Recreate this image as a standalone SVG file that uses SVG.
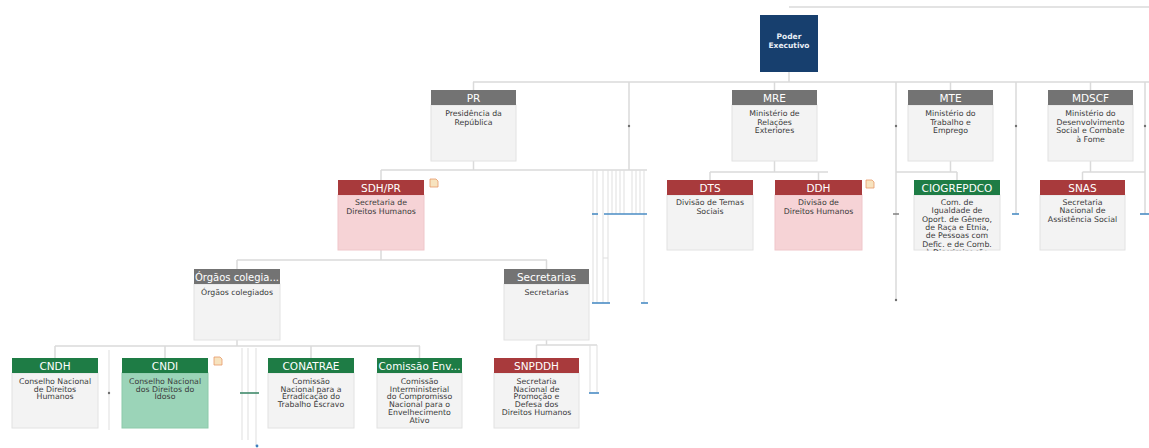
<svg xmlns="http://www.w3.org/2000/svg" width="1149" height="448" viewBox="0 0 1149 448">
  <style>
    .ln { stroke: #dadada; stroke-width: 1.5; fill: none; }
    .thin { stroke: #dfdfdf; stroke-width: 1; fill: none; }
    .blue { stroke: #4a8cc4; stroke-width: 1.6; fill: none; }
    .dot { fill: #6f6f6f; }
    .hd-gray { fill: #737373; }
    .hd-red { fill: #a83a3c; }
    .hd-green { fill: #1e7c45; }
    .bd { fill: #f3f3f3; stroke: #e2e2e2; stroke-width: 1; }
    .bd-pink { fill: #f6d3d6; stroke: #efc6ca; stroke-width: 1; }
    .bd-green { fill: #9bd4b8; stroke: #8ccaaa; stroke-width: 1; }
    .ht { font-family: "DejaVu Sans", sans-serif; font-size: 10.5px; fill: #ffffff; text-anchor: middle; }
    .bt { font-family: "DejaVu Sans", sans-serif; font-size: 7.8px; fill: #3a3a3a; text-anchor: middle; }
    .pt { font-family: "DejaVu Sans", sans-serif; font-size: 7.5px; font-weight: bold; fill: #e8eef6; text-anchor: middle; }
    .note { fill: #f7e3bf; stroke: #e79a6a; stroke-width: 0.8; }
  </style>
  <defs>
    <clipPath id="clip-ciog"><rect x="914" y="195" width="86" height="56"/></clipPath>
  </defs>
  <rect width="1149" height="448" fill="#ffffff"/>

  <!-- connectors -->
  <g id="connectors">
    <line class="ln" x1="789" y1="7" x2="1149" y2="7"/>
    <line class="ln" x1="789" y1="72" x2="789" y2="82"/>
    <line class="ln" x1="473" y1="82" x2="1149" y2="82"/>
    <line class="ln" x1="473.5" y1="82" x2="473.5" y2="90"/>
    <line class="ln" x1="774.5" y1="82" x2="774.5" y2="90"/>
    <line class="ln" x1="950.5" y1="82" x2="950.5" y2="90"/>
    <line class="ln" x1="1090.5" y1="82" x2="1090.5" y2="90"/>

    <!-- side lines from level 1 -->
    <line class="ln" x1="629" y1="82" x2="629" y2="170"/>
    <line class="ln" x1="896" y1="82" x2="896" y2="300"/>
    <line class="ln" x1="1016" y1="82" x2="1016" y2="214"/>
    <line class="ln" x1="1145" y1="82" x2="1145" y2="214"/>
    <circle class="dot" cx="629" cy="126" r="1.2"/>
    <circle class="dot" cx="896" cy="126" r="1.2"/>
    <circle class="dot" cx="1016" cy="126" r="1.2"/>
    <circle class="dot" cx="1145" cy="126" r="1.2"/>
    <circle class="dot" cx="896" cy="300" r="1.2"/>
    <line x1="893" y1="214" x2="899" y2="214" stroke="#777" stroke-width="1.4"/>

    <!-- PR children -->
    <line class="ln" x1="473.5" y1="161" x2="473.5" y2="170"/>
    <line class="ln" x1="381" y1="170" x2="647" y2="170"/>
    <line class="ln" x1="381" y1="170" x2="381" y2="180"/>
    <g class="thin">
      <line x1="593" y1="170" x2="593" y2="303"/>
      <line x1="597" y1="170" x2="597" y2="303"/>
      <line x1="603" y1="170" x2="603" y2="303"/>
      <line x1="608" y1="170" x2="608" y2="303"/>
      <line x1="612" y1="170" x2="612" y2="214"/>
      <line x1="616" y1="170" x2="616" y2="214"/>
      <line x1="620" y1="170" x2="620" y2="214"/>
      <line x1="624" y1="170" x2="624" y2="214"/>
      <line x1="632" y1="170" x2="632" y2="214"/>
      <line x1="636" y1="170" x2="636" y2="214"/>
      <line x1="640" y1="170" x2="640" y2="214"/>
      <line x1="644" y1="170" x2="644" y2="303"/>
      <line x1="603" y1="258" x2="608" y2="258"/>
    </g>
    <line class="blue" x1="592" y1="214" x2="598" y2="214"/>
    <line class="blue" x1="604" y1="214" x2="647" y2="214"/>
    <line class="blue" x1="592" y1="303" x2="610" y2="303"/>
    <line class="blue" x1="641" y1="303" x2="648" y2="303"/>

    <!-- MRE children -->
    <line class="ln" x1="774.5" y1="161" x2="774.5" y2="172"/>
    <line class="ln" x1="710" y1="172" x2="828" y2="172"/>
    <line class="ln" x1="710" y1="172" x2="710" y2="180"/>
    <line class="ln" x1="818.5" y1="172" x2="818.5" y2="180"/>

    <!-- MTE children -->
    <line class="ln" x1="950.5" y1="161" x2="950.5" y2="172"/>
    <line class="ln" x1="896" y1="172" x2="957" y2="172"/>
    <line class="ln" x1="957" y1="172" x2="957" y2="180"/>

    <!-- MDSCF children -->
    <line class="ln" x1="1090.5" y1="161" x2="1090.5" y2="172"/>
    <line class="ln" x1="1082.5" y1="172" x2="1145" y2="172"/>
    <line class="ln" x1="1082.5" y1="172" x2="1082.5" y2="180"/>
    <line class="blue" x1="1012" y1="214" x2="1019" y2="214"/>
    <line class="blue" x1="1140" y1="214" x2="1149" y2="214"/>

    <!-- SDH/PR children -->
    <line class="ln" x1="381" y1="250" x2="381" y2="260"/>
    <line class="ln" x1="237" y1="260" x2="547" y2="260"/>
    <line class="ln" x1="237" y1="260" x2="237" y2="269"/>
    <line class="ln" x1="546.5" y1="260" x2="546.5" y2="269"/>

    <!-- Órgãos colegiados children -->
    <line class="ln" x1="237" y1="340" x2="237" y2="346"/>
    <line class="ln" x1="55" y1="346" x2="420" y2="346"/>
    <line class="ln" x1="55" y1="346" x2="55" y2="358"/>
    <line class="ln" x1="165" y1="346" x2="165" y2="358"/>
    <line class="ln" x1="311" y1="346" x2="311" y2="358"/>
    <line class="ln" x1="419.5" y1="346" x2="419.5" y2="358"/>
    <line class="thin" x1="109" y1="350" x2="109" y2="430"/>
    <circle class="dot" cx="109" cy="393" r="1.2"/>
    <g class="thin">
      <line x1="242" y1="348" x2="242" y2="440"/>
      <line x1="248" y1="348" x2="248" y2="440"/>
      <line x1="256" y1="348" x2="256" y2="446"/>
    </g>
    <line x1="240" y1="393" x2="259" y2="393" stroke="#3f8a6a" stroke-width="1.6"/>
    <circle cx="257" cy="446" r="1.4" fill="#3d7fc0"/>

    <!-- Secretarias children -->
    <line class="ln" x1="546.5" y1="340" x2="546.5" y2="345"/>
    <line class="ln" x1="536.5" y1="345" x2="597" y2="345"/>
    <line class="ln" x1="536.5" y1="345" x2="536.5" y2="358"/>
    <g class="thin">
      <line x1="590" y1="345" x2="590" y2="393"/>
      <line x1="597" y1="345" x2="597" y2="393"/>
    </g>
    <line class="blue" x1="589" y1="393" x2="599" y2="393"/>
  </g>

  <!-- level 0 -->
  <g id="poder-executivo">
    <rect x="760" y="15" width="58" height="57" fill="#173f6e"/>
    <text class="pt" x="789" y="39">Poder</text>
    <text class="pt" x="789" y="48">Executivo</text>
  </g>

  <!-- level 1 -->
  <g id="pr">
    <rect class="bd" x="431" y="105" width="85" height="56"/>
    <rect class="hd-gray" x="431" y="90" width="85" height="15"/>
    <text class="ht" x="473.5" y="101.5">PR</text>
    <text class="bt" x="473.5" y="116">Presidência da</text>
    <text class="bt" x="473.5" y="124.5">República</text>
  </g>
  <g id="mre">
    <rect class="bd" x="732" y="105" width="85" height="56"/>
    <rect class="hd-gray" x="732" y="90" width="85" height="15"/>
    <text class="ht" x="774.5" y="101.5">MRE</text>
    <text class="bt" x="774.5" y="116">Ministério de</text>
    <text class="bt" x="774.5" y="124.5">Relações</text>
    <text class="bt" x="774.5" y="133">Exteriores</text>
  </g>
  <g id="mte">
    <rect class="bd" x="908" y="105" width="85" height="56"/>
    <rect class="hd-gray" x="908" y="90" width="85" height="15"/>
    <text class="ht" x="950.5" y="101.5">MTE</text>
    <text class="bt" x="950.5" y="116">Ministério do</text>
    <text class="bt" x="950.5" y="124.5">Trabalho e</text>
    <text class="bt" x="950.5" y="133">Emprego</text>
  </g>
  <g id="mdscf">
    <rect class="bd" x="1048" y="105" width="85" height="56"/>
    <rect class="hd-gray" x="1048" y="90" width="85" height="15"/>
    <text class="ht" x="1090.5" y="101.5">MDSCF</text>
    <text class="bt" x="1090.5" y="116">Ministério do</text>
    <text class="bt" x="1090.5" y="124.5">Desenvolvimento</text>
    <text class="bt" x="1090.5" y="133">Social e Combate</text>
    <text class="bt" x="1090.5" y="141.5">à Fome</text>
  </g>

  <!-- level 2 -->
  <g id="sdh-pr">
    <rect class="bd-pink" x="338" y="195" width="86" height="55"/>
    <rect class="hd-red" x="338" y="180" width="86" height="15"/>
    <text class="ht" x="381" y="191.5">SDH/PR</text>
    <text class="bt" x="381" y="205">Secretaria de</text>
    <text class="bt" x="381" y="213.5">Direitos Humanos</text>
    <path class="note" d="M430 179h6l2 2v6h-8z"/>
  </g>
  <g id="dts">
    <rect class="bd" x="667" y="195" width="86" height="55"/>
    <rect class="hd-red" x="667" y="180" width="86" height="15"/>
    <text class="ht" x="710" y="191.5">DTS</text>
    <text class="bt" x="710" y="205">Divisão de Temas</text>
    <text class="bt" x="710" y="213.5">Sociais</text>
  </g>
  <g id="ddh">
    <rect class="bd-pink" x="775" y="195" width="87" height="55"/>
    <rect class="hd-red" x="775" y="180" width="87" height="15"/>
    <text class="ht" x="818.5" y="191.5">DDH</text>
    <text class="bt" x="818.5" y="205">Divisão de</text>
    <text class="bt" x="818.5" y="213.5">Direitos Humanos</text>
    <path class="note" d="M866 180h6l2 2v6h-8z"/>
  </g>
  <g id="ciogrepdco">
    <rect class="bd" x="914" y="195" width="86" height="55"/>
    <rect class="hd-green" x="914" y="180" width="86" height="15"/>
    <text class="ht" x="957" y="191.5">CIOGREPDCO</text>
    <g clip-path="url(#clip-ciog)">
      <text class="bt" x="957" y="205">Com. de</text>
      <text class="bt" x="957" y="213.3">Igualdade de</text>
      <text class="bt" x="957" y="221.6">Oport. de Gênero,</text>
      <text class="bt" x="957" y="229.9">de Raça e Etnia,</text>
      <text class="bt" x="957" y="238.2">de Pessoas com</text>
      <text class="bt" x="957" y="246.5">Defic. e de Comb.</text>
      <text class="bt" x="957" y="254.8">à Discriminação</text>
    </g>
  </g>
  <g id="snas">
    <rect class="bd" x="1040" y="195" width="85" height="55"/>
    <rect class="hd-red" x="1040" y="180" width="85" height="15"/>
    <text class="ht" x="1082.5" y="191.5">SNAS</text>
    <text class="bt" x="1082.5" y="205">Secretaria</text>
    <text class="bt" x="1082.5" y="213.3">Nacional de</text>
    <text class="bt" x="1082.5" y="221.6">Assistência Social</text>
  </g>

  <!-- level 3 -->
  <g id="orgaos-colegiados">
    <rect class="bd" x="194" y="284" width="86" height="56"/>
    <rect class="hd-gray" x="194" y="269" width="86" height="15"/>
    <text class="ht" x="237" y="280.5" textLength="84" lengthAdjust="spacingAndGlyphs">Órgãos colegia...</text>
    <text class="bt" x="237" y="295">Órgãos colegiados</text>
  </g>
  <g id="secretarias">
    <rect class="bd" x="504" y="284" width="85" height="56"/>
    <rect class="hd-gray" x="504" y="269" width="85" height="15"/>
    <text class="ht" x="546.5" y="280.5">Secretarias</text>
    <text class="bt" x="546.5" y="295">Secretarias</text>
  </g>

  <!-- level 4 -->
  <g id="cndh">
    <rect class="bd" x="12" y="373" width="86" height="55"/>
    <rect class="hd-green" x="12" y="358" width="86" height="15"/>
    <text class="ht" x="55" y="369.5">CNDH</text>
    <text class="bt" x="55" y="384">Conselho Nacional</text>
    <text class="bt" x="55" y="391.7">de Direitos</text>
    <text class="bt" x="55" y="399.4">Humanos</text>
  </g>
  <g id="cndi">
    <rect class="bd-green" x="122" y="373" width="86" height="55"/>
    <rect class="hd-green" x="122" y="358" width="86" height="15"/>
    <text class="ht" x="165" y="369.5">CNDI</text>
    <text class="bt" x="165" y="384">Conselho Nacional</text>
    <text class="bt" x="165" y="391.7">dos Direitos do</text>
    <text class="bt" x="165" y="399.4">Idoso</text>
    <path class="note" d="M214 357h6l2 2v6h-8z"/>
  </g>
  <g id="conatrae">
    <rect class="bd" x="268" y="373" width="86" height="55"/>
    <rect class="hd-green" x="268" y="358" width="86" height="15"/>
    <text class="ht" x="311" y="369.5">CONATRAE</text>
    <text class="bt" x="311" y="384">Comissão</text>
    <text class="bt" x="311" y="391.7">Nacional para a</text>
    <text class="bt" x="311" y="399.4">Erradicação do</text>
    <text class="bt" x="311" y="407.1">Trabalho Escravo</text>
  </g>
  <g id="comissao-env">
    <rect class="bd" x="377" y="373" width="85" height="55"/>
    <rect class="hd-green" x="377" y="358" width="85" height="15"/>
    <text class="ht" x="419.5" y="369.5" textLength="82" lengthAdjust="spacingAndGlyphs">Comissão Env...</text>
    <text class="bt" x="419.5" y="384">Comissão</text>
    <text class="bt" x="419.5" y="391.7">Interministerial</text>
    <text class="bt" x="419.5" y="399.4">do Compromisso</text>
    <text class="bt" x="419.5" y="407.1">Nacional para o</text>
    <text class="bt" x="419.5" y="414.8">Envelhecimento</text>
    <text class="bt" x="419.5" y="422.5">Ativo</text>
  </g>
  <g id="snpddh">
    <rect class="bd" x="494" y="373" width="85" height="55"/>
    <rect class="hd-red" x="494" y="358" width="85" height="15"/>
    <text class="ht" x="536.5" y="369.5">SNPDDH</text>
    <text class="bt" x="536.5" y="384">Secretaria</text>
    <text class="bt" x="536.5" y="391.7">Nacional de</text>
    <text class="bt" x="536.5" y="399.4">Promoção e</text>
    <text class="bt" x="536.5" y="407.1">Defesa dos</text>
    <text class="bt" x="536.5" y="414.8">Direitos Humanos</text>
  </g>
</svg>
